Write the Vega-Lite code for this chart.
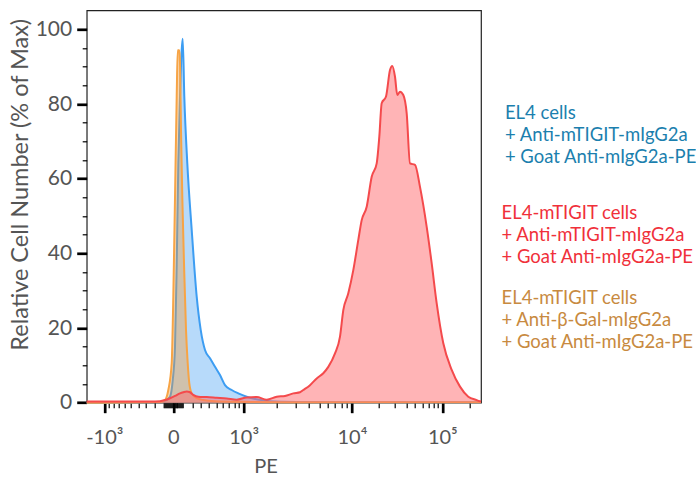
{
  "$schema": "https://vega.github.io/schema/vega-lite/v6.json",
  "width": 394.3,
  "height": 392.4,
  "autosize": "none",
  "padding": {"left": 86.7, "top": 10.3, "right": 215, "bottom": 75},
  "background": "white",
  "config": {"view": {"stroke": "#222", "strokeWidth": 1.2}, "font": "Lato"},
  "data": {"values": [
    {"series": "EL4 cells + Anti-mTIGIT-mIgG2a + Goat Anti-mIgG2a-PE", "ch": 0, "pct": 0},
    {"series": "EL4 cells + Anti-mTIGIT-mIgG2a + Goat Anti-mIgG2a-PE", "ch": 183.25, "pct": 0.2},
    {"series": "EL4 cells + Anti-mTIGIT-mIgG2a + Goat Anti-mIgG2a-PE", "ch": 198.25, "pct": 0.6},
    {"series": "EL4 cells + Anti-mTIGIT-mIgG2a + Goat Anti-mIgG2a-PE", "ch": 208.25, "pct": 1.6},
    {"series": "EL4 cells + Anti-mTIGIT-mIgG2a + Goat Anti-mIgG2a-PE", "ch": 215, "pct": 6},
    {"series": "EL4 cells + Anti-mTIGIT-mIgG2a + Goat Anti-mIgG2a-PE", "ch": 220.75, "pct": 15},
    {"series": "EL4 cells + Anti-mTIGIT-mIgG2a + Goat Anti-mIgG2a-PE", "ch": 225, "pct": 37},
    {"series": "EL4 cells + Anti-mTIGIT-mIgG2a + Goat Anti-mIgG2a-PE", "ch": 229, "pct": 64},
    {"series": "EL4 cells + Anti-mTIGIT-mIgG2a + Goat Anti-mIgG2a-PE", "ch": 233.25, "pct": 82},
    {"series": "EL4 cells + Anti-mTIGIT-mIgG2a + Goat Anti-mIgG2a-PE", "ch": 237.5, "pct": 94.5},
    {"series": "EL4 cells + Anti-mTIGIT-mIgG2a + Goat Anti-mIgG2a-PE", "ch": 240, "pct": 97.5},
    {"series": "EL4 cells + Anti-mTIGIT-mIgG2a + Goat Anti-mIgG2a-PE", "ch": 244, "pct": 82},
    {"series": "EL4 cells + Anti-mTIGIT-mIgG2a + Goat Anti-mIgG2a-PE", "ch": 251.5, "pct": 64.1},
    {"series": "EL4 cells + Anti-mTIGIT-mIgG2a + Goat Anti-mIgG2a-PE", "ch": 262.5, "pct": 46.3},
    {"series": "EL4 cells + Anti-mTIGIT-mIgG2a + Goat Anti-mIgG2a-PE", "ch": 275, "pct": 28.4},
    {"series": "EL4 cells + Anti-mTIGIT-mIgG2a + Goat Anti-mIgG2a-PE", "ch": 285, "pct": 19.5},
    {"series": "EL4 cells + Anti-mTIGIT-mIgG2a + Goat Anti-mIgG2a-PE", "ch": 295.75, "pct": 14.1},
    {"series": "EL4 cells + Anti-mTIGIT-mIgG2a + Goat Anti-mIgG2a-PE", "ch": 308.25, "pct": 11.9},
    {"series": "EL4 cells + Anti-mTIGIT-mIgG2a + Goat Anti-mIgG2a-PE", "ch": 320.75, "pct": 9.6},
    {"series": "EL4 cells + Anti-mTIGIT-mIgG2a + Goat Anti-mIgG2a-PE", "ch": 333.25, "pct": 7.4},
    {"series": "EL4 cells + Anti-mTIGIT-mIgG2a + Goat Anti-mIgG2a-PE", "ch": 345.75, "pct": 4.7},
    {"series": "EL4 cells + Anti-mTIGIT-mIgG2a + Goat Anti-mIgG2a-PE", "ch": 362.5, "pct": 3.4},
    {"series": "EL4 cells + Anti-mTIGIT-mIgG2a + Goat Anti-mIgG2a-PE", "ch": 379, "pct": 2.5},
    {"series": "EL4 cells + Anti-mTIGIT-mIgG2a + Goat Anti-mIgG2a-PE", "ch": 400, "pct": 1.6},
    {"series": "EL4 cells + Anti-mTIGIT-mIgG2a + Goat Anti-mIgG2a-PE", "ch": 425, "pct": 0.9},
    {"series": "EL4 cells + Anti-mTIGIT-mIgG2a + Goat Anti-mIgG2a-PE", "ch": 458.25, "pct": 0.4},
    {"series": "EL4 cells + Anti-mTIGIT-mIgG2a + Goat Anti-mIgG2a-PE", "ch": 533.25, "pct": 0.2},
    {"series": "EL4 cells + Anti-mTIGIT-mIgG2a + Goat Anti-mIgG2a-PE", "ch": 658.25, "pct": 0.1},
    {"series": "EL4 cells + Anti-mTIGIT-mIgG2a + Goat Anti-mIgG2a-PE", "ch": 985.75, "pct": 0.1},

    {"series": "EL4-mTIGIT cells + Anti-β-Gal-mIgG2a + Goat Anti-mIgG2a-PE", "ch": 0, "pct": 0},
    {"series": "EL4-mTIGIT cells + Anti-β-Gal-mIgG2a + Goat Anti-mIgG2a-PE", "ch": 183.25, "pct": 0.2},
    {"series": "EL4-mTIGIT cells + Anti-β-Gal-mIgG2a + Goat Anti-mIgG2a-PE", "ch": 195.75, "pct": 0.7},
    {"series": "EL4-mTIGIT cells + Anti-β-Gal-mIgG2a + Goat Anti-mIgG2a-PE", "ch": 204, "pct": 3.4},
    {"series": "EL4-mTIGIT cells + Anti-β-Gal-mIgG2a + Goat Anti-mIgG2a-PE", "ch": 212.5, "pct": 10.6},
    {"series": "EL4-mTIGIT cells + Anti-β-Gal-mIgG2a + Goat Anti-mIgG2a-PE", "ch": 216.5, "pct": 28.4},
    {"series": "EL4-mTIGIT cells + Anti-β-Gal-mIgG2a + Goat Anti-mIgG2a-PE", "ch": 220.75, "pct": 55},
    {"series": "EL4-mTIGIT cells + Anti-β-Gal-mIgG2a + Goat Anti-mIgG2a-PE", "ch": 225, "pct": 82},
    {"series": "EL4-mTIGIT cells + Anti-β-Gal-mIgG2a + Goat Anti-mIgG2a-PE", "ch": 227.5, "pct": 94.4},
    {"series": "EL4-mTIGIT cells + Anti-β-Gal-mIgG2a + Goat Anti-mIgG2a-PE", "ch": 231.5, "pct": 94.4},
    {"series": "EL4-mTIGIT cells + Anti-β-Gal-mIgG2a + Goat Anti-mIgG2a-PE", "ch": 233.25, "pct": 91},
    {"series": "EL4-mTIGIT cells + Anti-β-Gal-mIgG2a + Goat Anti-mIgG2a-PE", "ch": 235.75, "pct": 73},
    {"series": "EL4-mTIGIT cells + Anti-β-Gal-mIgG2a + Goat Anti-mIgG2a-PE", "ch": 239, "pct": 55},
    {"series": "EL4-mTIGIT cells + Anti-β-Gal-mIgG2a + Goat Anti-mIgG2a-PE", "ch": 243.25, "pct": 37.4},
    {"series": "EL4-mTIGIT cells + Anti-β-Gal-mIgG2a + Goat Anti-mIgG2a-PE", "ch": 248.25, "pct": 19.5},
    {"series": "EL4-mTIGIT cells + Anti-β-Gal-mIgG2a + Goat Anti-mIgG2a-PE", "ch": 252.5, "pct": 10.6},
    {"series": "EL4-mTIGIT cells + Anti-β-Gal-mIgG2a + Goat Anti-mIgG2a-PE", "ch": 256.5, "pct": 5.2},
    {"series": "EL4-mTIGIT cells + Anti-β-Gal-mIgG2a + Goat Anti-mIgG2a-PE", "ch": 262.5, "pct": 2.5},
    {"series": "EL4-mTIGIT cells + Anti-β-Gal-mIgG2a + Goat Anti-mIgG2a-PE", "ch": 275, "pct": 1.2},
    {"series": "EL4-mTIGIT cells + Anti-β-Gal-mIgG2a + Goat Anti-mIgG2a-PE", "ch": 291.5, "pct": 0.7},
    {"series": "EL4-mTIGIT cells + Anti-β-Gal-mIgG2a + Goat Anti-mIgG2a-PE", "ch": 320.75, "pct": 0.4},
    {"series": "EL4-mTIGIT cells + Anti-β-Gal-mIgG2a + Goat Anti-mIgG2a-PE", "ch": 408.25, "pct": 0.2},
    {"series": "EL4-mTIGIT cells + Anti-β-Gal-mIgG2a + Goat Anti-mIgG2a-PE", "ch": 533.25, "pct": 0.1},
    {"series": "EL4-mTIGIT cells + Anti-β-Gal-mIgG2a + Goat Anti-mIgG2a-PE", "ch": 985.75, "pct": 0.1},

    {"series": "EL4-mTIGIT cells + Anti-mTIGIT-mIgG2a + Goat Anti-mIgG2a-PE", "ch": 0, "pct": 0.3},
    {"series": "EL4-mTIGIT cells + Anti-mTIGIT-mIgG2a + Goat Anti-mIgG2a-PE", "ch": 158.25, "pct": 0.3},
    {"series": "EL4-mTIGIT cells + Anti-mTIGIT-mIgG2a + Goat Anti-mIgG2a-PE", "ch": 183.25, "pct": 0.4},
    {"series": "EL4-mTIGIT cells + Anti-mTIGIT-mIgG2a + Goat Anti-mIgG2a-PE", "ch": 195.75, "pct": 0.7},
    {"series": "EL4-mTIGIT cells + Anti-mTIGIT-mIgG2a + Goat Anti-mIgG2a-PE", "ch": 208.25, "pct": 1.2},
    {"series": "EL4-mTIGIT cells + Anti-mTIGIT-mIgG2a + Goat Anti-mIgG2a-PE", "ch": 220.75, "pct": 1.8},
    {"series": "EL4-mTIGIT cells + Anti-mTIGIT-mIgG2a + Goat Anti-mIgG2a-PE", "ch": 233.25, "pct": 2.5},
    {"series": "EL4-mTIGIT cells + Anti-mTIGIT-mIgG2a + Goat Anti-mIgG2a-PE", "ch": 241.5, "pct": 2.8},
    {"series": "EL4-mTIGIT cells + Anti-mTIGIT-mIgG2a + Goat Anti-mIgG2a-PE", "ch": 250, "pct": 3.0},
    {"series": "EL4-mTIGIT cells + Anti-mTIGIT-mIgG2a + Goat Anti-mIgG2a-PE", "ch": 258.25, "pct": 2.8},
    {"series": "EL4-mTIGIT cells + Anti-mTIGIT-mIgG2a + Goat Anti-mIgG2a-PE", "ch": 266.5, "pct": 2.1},
    {"series": "EL4-mTIGIT cells + Anti-mTIGIT-mIgG2a + Goat Anti-mIgG2a-PE", "ch": 279, "pct": 1.6},
    {"series": "EL4-mTIGIT cells + Anti-mTIGIT-mIgG2a + Goat Anti-mIgG2a-PE", "ch": 300, "pct": 1.5},
    {"series": "EL4-mTIGIT cells + Anti-mTIGIT-mIgG2a + Goat Anti-mIgG2a-PE", "ch": 325, "pct": 1.3},
    {"series": "EL4-mTIGIT cells + Anti-mTIGIT-mIgG2a + Goat Anti-mIgG2a-PE", "ch": 350, "pct": 1.1},
    {"series": "EL4-mTIGIT cells + Anti-mTIGIT-mIgG2a + Goat Anti-mIgG2a-PE", "ch": 375, "pct": 0.8},
    {"series": "EL4-mTIGIT cells + Anti-mTIGIT-mIgG2a + Goat Anti-mIgG2a-PE", "ch": 400, "pct": 1.4},
    {"series": "EL4-mTIGIT cells + Anti-mTIGIT-mIgG2a + Goat Anti-mIgG2a-PE", "ch": 425, "pct": 1.5},
    {"series": "EL4-mTIGIT cells + Anti-mTIGIT-mIgG2a + Goat Anti-mIgG2a-PE", "ch": 450, "pct": 0.8},
    {"series": "EL4-mTIGIT cells + Anti-mTIGIT-mIgG2a + Goat Anti-mIgG2a-PE", "ch": 475, "pct": 1.6},
    {"series": "EL4-mTIGIT cells + Anti-mTIGIT-mIgG2a + Goat Anti-mIgG2a-PE", "ch": 495.75, "pct": 1.8},
    {"series": "EL4-mTIGIT cells + Anti-mTIGIT-mIgG2a + Goat Anti-mIgG2a-PE", "ch": 516.5, "pct": 2.5},
    {"series": "EL4-mTIGIT cells + Anti-mTIGIT-mIgG2a + Goat Anti-mIgG2a-PE", "ch": 533.25, "pct": 2.8},
    {"series": "EL4-mTIGIT cells + Anti-mTIGIT-mIgG2a + Goat Anti-mIgG2a-PE", "ch": 541.5, "pct": 3.4},
    {"series": "EL4-mTIGIT cells + Anti-mTIGIT-mIgG2a + Goat Anti-mIgG2a-PE", "ch": 558.25, "pct": 4.7},
    {"series": "EL4-mTIGIT cells + Anti-mTIGIT-mIgG2a + Goat Anti-mIgG2a-PE", "ch": 575, "pct": 6.5},
    {"series": "EL4-mTIGIT cells + Anti-mTIGIT-mIgG2a + Goat Anti-mIgG2a-PE", "ch": 591.5, "pct": 7.9},
    {"series": "EL4-mTIGIT cells + Anti-mTIGIT-mIgG2a + Goat Anti-mIgG2a-PE", "ch": 604, "pct": 9.6},
    {"series": "EL4-mTIGIT cells + Anti-mTIGIT-mIgG2a + Goat Anti-mIgG2a-PE", "ch": 620.75, "pct": 13.2},
    {"series": "EL4-mTIGIT cells + Anti-mTIGIT-mIgG2a + Goat Anti-mIgG2a-PE", "ch": 633.25, "pct": 17.7},
    {"series": "EL4-mTIGIT cells + Anti-mTIGIT-mIgG2a + Goat Anti-mIgG2a-PE", "ch": 641.5, "pct": 24.8},
    {"series": "EL4-mTIGIT cells + Anti-mTIGIT-mIgG2a + Goat Anti-mIgG2a-PE", "ch": 654, "pct": 29.3},
    {"series": "EL4-mTIGIT cells + Anti-mTIGIT-mIgG2a + Goat Anti-mIgG2a-PE", "ch": 666.5, "pct": 35.5},
    {"series": "EL4-mTIGIT cells + Anti-mTIGIT-mIgG2a + Goat Anti-mIgG2a-PE", "ch": 679, "pct": 43.6},
    {"series": "EL4-mTIGIT cells + Anti-mTIGIT-mIgG2a + Goat Anti-mIgG2a-PE", "ch": 687.5, "pct": 48.9},
    {"series": "EL4-mTIGIT cells + Anti-mTIGIT-mIgG2a + Goat Anti-mIgG2a-PE", "ch": 700, "pct": 52.5},
    {"series": "EL4-mTIGIT cells + Anti-mTIGIT-mIgG2a + Goat Anti-mIgG2a-PE", "ch": 712.5, "pct": 60.5},
    {"series": "EL4-mTIGIT cells + Anti-mTIGIT-mIgG2a + Goat Anti-mIgG2a-PE", "ch": 725, "pct": 64.1},
    {"series": "EL4-mTIGIT cells + Anti-mTIGIT-mIgG2a + Goat Anti-mIgG2a-PE", "ch": 731.5, "pct": 71.2},
    {"series": "EL4-mTIGIT cells + Anti-mTIGIT-mIgG2a + Goat Anti-mIgG2a-PE", "ch": 737.5, "pct": 80.2},
    {"series": "EL4-mTIGIT cells + Anti-mTIGIT-mIgG2a + Goat Anti-mIgG2a-PE", "ch": 748.25, "pct": 82},
    {"series": "EL4-mTIGIT cells + Anti-mTIGIT-mIgG2a + Goat Anti-mIgG2a-PE", "ch": 758.25, "pct": 89.1},
    {"series": "EL4-mTIGIT cells + Anti-mTIGIT-mIgG2a + Goat Anti-mIgG2a-PE", "ch": 764, "pct": 90.2},
    {"series": "EL4-mTIGIT cells + Anti-mTIGIT-mIgG2a + Goat Anti-mIgG2a-PE", "ch": 770.75, "pct": 87.3},
    {"series": "EL4-mTIGIT cells + Anti-mTIGIT-mIgG2a + Goat Anti-mIgG2a-PE", "ch": 776.5, "pct": 82.4},
    {"series": "EL4-mTIGIT cells + Anti-mTIGIT-mIgG2a + Goat Anti-mIgG2a-PE", "ch": 783.25, "pct": 83.3},
    {"series": "EL4-mTIGIT cells + Anti-mTIGIT-mIgG2a + Goat Anti-mIgG2a-PE", "ch": 791.5, "pct": 82.4},
    {"series": "EL4-mTIGIT cells + Anti-mTIGIT-mIgG2a + Goat Anti-mIgG2a-PE", "ch": 800, "pct": 77.5},
    {"series": "EL4-mTIGIT cells + Anti-mTIGIT-mIgG2a + Goat Anti-mIgG2a-PE", "ch": 808.25, "pct": 64.1},
    {"series": "EL4-mTIGIT cells + Anti-mTIGIT-mIgG2a + Goat Anti-mIgG2a-PE", "ch": 820.75, "pct": 63.7},
    {"series": "EL4-mTIGIT cells + Anti-mTIGIT-mIgG2a + Goat Anti-mIgG2a-PE", "ch": 833.25, "pct": 57.8},
    {"series": "EL4-mTIGIT cells + Anti-mTIGIT-mIgG2a + Goat Anti-mIgG2a-PE", "ch": 850, "pct": 47.1},
    {"series": "EL4-mTIGIT cells + Anti-mTIGIT-mIgG2a + Goat Anti-mIgG2a-PE", "ch": 862.5, "pct": 37.3},
    {"series": "EL4-mTIGIT cells + Anti-mTIGIT-mIgG2a + Goat Anti-mIgG2a-PE", "ch": 875, "pct": 26.6},
    {"series": "EL4-mTIGIT cells + Anti-mTIGIT-mIgG2a + Goat Anti-mIgG2a-PE", "ch": 891.5, "pct": 15.9},
    {"series": "EL4-mTIGIT cells + Anti-mTIGIT-mIgG2a + Goat Anti-mIgG2a-PE", "ch": 912.5, "pct": 8.8},
    {"series": "EL4-mTIGIT cells + Anti-mTIGIT-mIgG2a + Goat Anti-mIgG2a-PE", "ch": 933.25, "pct": 4.3},
    {"series": "EL4-mTIGIT cells + Anti-mTIGIT-mIgG2a + Goat Anti-mIgG2a-PE", "ch": 954, "pct": 1.6},
    {"series": "EL4-mTIGIT cells + Anti-mTIGIT-mIgG2a + Goat Anti-mIgG2a-PE", "ch": 975, "pct": 0.7},
    {"series": "EL4-mTIGIT cells + Anti-mTIGIT-mIgG2a + Goat Anti-mIgG2a-PE", "ch": 985.75, "pct": 0.3}
  ]},
  "encoding": {
    "x": {
      "field": "ch", "type": "quantitative",
      "scale": {"domain": [0, 985.75], "nice": false, "zero": false},
      "axis": {
        "title": "PE", "titleFont": "Lato", "titleFontSize": 20, "titleFontWeight": "normal", "titleColor": "#555",
        "titleX": 178.8, "titleY": 70, "titleBaseline": "alphabetic", "titleAlign": "center", "titleAngle": 0,
        "values": [44, 216.5, 392.5, 663, 889,
          55.1, 67.3, 80.5, 95.1, 111.2, 128.9, 148.5, 169.9, 192.8, 195.1, 197.5, 199.8, 202.2, 204.6, 207.0, 209.3, 211.7, 214.1,
          218.9, 221.4, 223.8, 226.2, 228.7, 231.1, 233.5, 235.9, 238.3, 240.7, 264.0, 285.8, 305.8, 323.9, 340.4, 355.2, 368.8, 381.1,
          473.9, 521.6, 555.4, 581.6, 603.0, 621.1, 636.8, 650.6, 731.0, 770.8, 799.1, 821.0, 838.9, 854.0, 867.1, 878.6, 957.0],
        "labelExpr": "datum.value == 44 ? '-10³' : datum.value == 216.5 ? '0' : datum.value == 392.5 ? '10³' : datum.value == 663 ? '10⁴' : datum.value == 889 ? '10⁵' : ''",
        "tickSize": {"condition": {"test": "indexof([44, 216.5, 392.5, 663, 889], datum.value) < 0", "value": 5}, "value": 10},
        "tickWidth": {"condition": {"test": "indexof([44, 216.5, 392.5, 663, 889], datum.value) < 0", "value": 1.2}, "value": 2.7},
        "tickColor": "#000",
        "domain": false, "grid": false,
        "labelFont": "Lato", "labelFontSize": 20, "labelColor": "#555",
        "labelBaseline": "alphabetic", "labelPadding": 31, "labelFlush": false, "labelOverlap": false
      }
    },
    "y": {
      "field": "pct", "type": "quantitative",
      "scale": {"domain": [0, 105.1], "nice": false},
      "axis": {
        "title": "Relative Cell Number (% of Max)",
        "values": [0, 5, 10, 15, 20, 25, 30, 35, 40, 45, 50, 55, 60, 65, 70, 75, 80, 85, 90, 95, 100],
        "labelExpr": "datum.value % 20 == 0 ? datum.label : ''",
        "tickSize": {"condition": {"test": "datum.value % 20 != 0", "value": 4.5}, "value": 10},
        "tickWidth": {"condition": {"test": "datum.value % 20 != 0", "value": 1.2}, "value": 2.7},
        "tickColor": "#000", "domain": false, "grid": false,
        "labelFont": "Lato", "labelFontSize": 21, "labelColor": "#555", "labelPadding": 5,
        "titleFont": "Lato", "titleFontSize": 23.5, "titleFontWeight": "normal", "titleColor": "#555",
        "titleX": -59.2, "titleY": 174, "titleAngle": -90, "titleBaseline": "alphabetic", "titleAlign": "center"
      }
    },
    "stroke": {"field": "series", "type": "nominal",
      "scale": {"domain": ["EL4 cells + Anti-mTIGIT-mIgG2a + Goat Anti-mIgG2a-PE", "EL4-mTIGIT cells + Anti-mTIGIT-mIgG2a + Goat Anti-mIgG2a-PE", "EL4-mTIGIT cells + Anti-β-Gal-mIgG2a + Goat Anti-mIgG2a-PE"], "range": ["#3d9df2", "#f44a4c", "#f7a445"]},
      "legend": {"values": ["EL4-mTIGIT cells + Anti-mTIGIT-mIgG2a + Goat Anti-mIgG2a-PE", "EL4-mTIGIT cells + Anti-β-Gal-mIgG2a + Goat Anti-mIgG2a-PE"],
        "orient": "none", "legendX": 396.3, "legendY": 184.2, "direction": "vertical", "title": null,
        "symbolOpacity": 0, "symbolSize": 0, "symbolStrokeWidth": 0, "labelOffset": 0, "padding": 0, "rowPadding": 13,
        "labelFont": "Lato", "labelFontSize": 18.5, "labelLimit": 500, "labelBaseline": "top",
        "labelExpr": "[split(datum.label, ' + ')[0], '+ ' + split(datum.label, ' + ')[1], '+ ' + split(datum.label, ' + ')[2]]",
        "encode": {"labels": {"update": {"lineHeight": {"value": 21.9},
          "fill": {"signal": "indexof(datum.value, 'β') >= 0 ? '#c88a40' : '#f0303a'"}}}}}
    }
  },
  "layer": [
    {
      "transform": [{"filter": "datum.series == 'EL4 cells + Anti-mTIGIT-mIgG2a + Goat Anti-mIgG2a-PE'"}],
      "mark": {"type": "area", "interpolate": "monotone", "fillOpacity": 0.4, "strokeWidth": 0, "strokeOpacity": 0},
      "encoding": {
        "fill": {"field": "series", "type": "nominal",
          "scale": {"domain": ["EL4 cells + Anti-mTIGIT-mIgG2a + Goat Anti-mIgG2a-PE"], "range": ["#4aa2f2"]},
          "legend": {"orient": "none", "legendX": 399.7, "legendY": 84.2, "direction": "vertical", "title": null,
            "symbolOpacity": 0, "symbolSize": 0, "symbolStrokeWidth": 0, "labelOffset": 0, "padding": 0,
            "labelFont": "Lato", "labelFontSize": 18.5, "labelLimit": 500, "labelBaseline": "top",
            "labelExpr": "[split(datum.label, ' + ')[0], '+ ' + split(datum.label, ' + ')[1], '+ ' + split(datum.label, ' + ')[2]]",
            "encode": {"labels": {"update": {"lineHeight": {"value": 21.9}, "fill": {"value": "#1b7fae"}}}}}
        }
      }
    },
    {
      "transform": [{"filter": "datum.series == 'EL4 cells + Anti-mTIGIT-mIgG2a + Goat Anti-mIgG2a-PE'"}],
      "mark": {"type": "line", "interpolate": "monotone", "strokeWidth": 2}
    },
    {
      "transform": [{"filter": "datum.series == 'EL4-mTIGIT cells + Anti-β-Gal-mIgG2a + Goat Anti-mIgG2a-PE'"}],
      "mark": {"type": "area", "interpolate": "monotone", "fill": "#f29b3a", "fillOpacity": 0.4, "strokeWidth": 0, "strokeOpacity": 0}
    },
    {
      "transform": [{"filter": "datum.series == 'EL4-mTIGIT cells + Anti-β-Gal-mIgG2a + Goat Anti-mIgG2a-PE'"}],
      "mark": {"type": "line", "interpolate": "monotone", "strokeWidth": 2}
    },
    {
      "transform": [{"filter": "datum.series == 'EL4-mTIGIT cells + Anti-mTIGIT-mIgG2a + Goat Anti-mIgG2a-PE'"}],
      "mark": {"type": "area", "interpolate": "monotone", "fill": "#ff6a6e", "fillOpacity": 0.5, "strokeWidth": 0, "strokeOpacity": 0}
    },
    {
      "transform": [{"filter": "datum.series == 'EL4-mTIGIT cells + Anti-mTIGIT-mIgG2a + Goat Anti-mIgG2a-PE'"}],
      "mark": {"type": "line", "interpolate": "monotone", "strokeWidth": 2}
    }
  ]
}
